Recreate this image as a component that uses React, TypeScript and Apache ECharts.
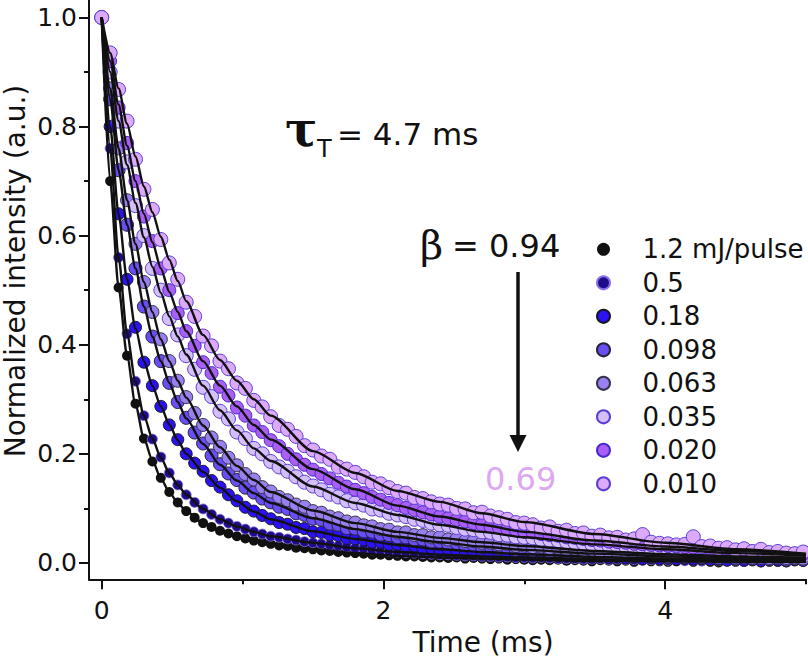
import React, { useEffect, useRef } from 'react';
import * as echarts from 'echarts';

const time = [0,0.06,0.12,0.18,0.24,0.3,0.36,0.42,0.48,0.54,
  0.6,0.66,0.72,0.78,0.84,0.9,0.96,1.02,1.08,1.14,
  1.2,1.26,1.32,1.38,1.44,1.5,1.56,1.62,1.68,1.74,
  1.8,1.86,1.92,1.98,2.04,2.1,2.16,2.22,2.28,2.34,
  2.4,2.46,2.52,2.58,2.64,2.7,2.76,2.82,2.88,2.94,
  3,3.06,3.12,3.18,3.24,3.3,3.36,3.42,3.48,3.54,
  3.6,3.66,3.72,3.78,3.84,3.9,3.96,4.02,4.08,4.14,
  4.2,4.26,4.32,4.38,4.44,4.5,4.56,4.62,4.68,4.74,
  4.8,4.86,4.92,4.98];

const fitTime = [0,0.06,0.12,0.18,0.24,0.3,0.36,0.42,0.48,0.54,0.6,0.72,0.84,0.96,1.08,1.2,1.5,1.8,2.1,2.4,2.7,3,3.5,4,4.5,5];

const seriesNames = ['1.2 mJ/pulse', '0.5', '0.18', '0.098', '0.063', '0.035', '0.020', '0.010'];

const d12 = [1,0.70,0.505,0.38,0.292,0.228,0.186,0.156,0.13,0.111,
  0.095,0.083,0.073,0.066,0.059,0.054,0.049,0.045,0.041,0.038,
  0.035,0.032,0.031,0.028,0.027,0.025,0.023,0.022,0.02,0.019,
  0.018,0.017,0.015,0.015,0.014,0.013,0.012,0.012,0.011,0.010,
  0.010,0.009,0.010,0.008,0.009,0.008,0.007,0.008,0.006,0.007,
  0.006,0.005,0.006,0.005,0.006,0.004,0.005,0.004,0.003,0.005,
  0.004,0.003,0.004,0.002,0.004,0.003,0.003,0.002,0.003,0.004,
  0.002,0.003,0.002,0.001,0.003,0.002,0.002,0.003,0.001,0.002,
  0.002,0.001,0.003,0.002];
const d05 = [1,0.76,0.56,0.42,0.333,0.27,0.227,0.194,0.165,0.143,
  0.125,0.111,0.099,0.089,0.08,0.073,0.067,0.062,0.057,0.053,
  0.049,0.047,0.044,0.042,0.039,0.037,0.035,0.033,0.031,0.029,
  0.027,0.026,0.024,0.023,0.021,0.020,0.019,0.018,0.017,0.016,
  0.015,0.015,0.014,0.013,0.013,0.012,0.012,0.011,0.011,0.010,
  0.010,0.009,0.010,0.009,0.008,0.008,0.008,0.007,0.007,0.008,
  0.006,0.007,0.006,0.006,0.005,0.006,0.005,0.005,0.006,0.004,
  0.005,0.004,0.005,0.004,0.004,0.004,0.003,0.004,0.003,0.004,
  0.003,0.003,0.004,0.003];
const d018 = [1,0.80,0.64,0.52,0.432,0.368,0.325,0.287,0.253,0.226,
  0.2,0.183,0.168,0.151,0.139,0.125,0.114,0.102,0.095,0.087,
  0.081,0.074,0.071,0.065,0.063,0.057,0.056,0.051,0.05,0.045,
  0.044,0.042,0.038,0.038,0.034,0.034,0.031,0.031,0.027,0.028,
  0.025,0.025,0.022,0.023,0.02,0.021,0.018,0.02,0.017,0.018,
  0.016,0.017,0.014,0.015,0.013,0.014,0.012,0.013,0.011,0.012,
  0.010,0.011,0.009,0.011,0.008,0.010,0.008,0.009,0.007,0.009,
  0.007,0.008,0.006,0.007,0.005,0.007,0.005,0.006,0.004,0.006,
  0.005,0.004,0.006,0.005];
const d0098 = [1,0.85,0.72,0.62,0.54,0.47,0.415,0.37,0.33,0.295,
  0.266,0.239,0.219,0.197,0.181,0.164,0.152,0.138,0.129,0.118,
  0.111,0.103,0.099,0.091,0.088,0.081,0.079,0.072,0.07,0.064,
  0.063,0.058,0.057,0.052,0.051,0.047,0.047,0.043,0.043,0.039,
  0.039,0.035,0.036,0.032,0.033,0.029,0.03,0.027,0.028,0.024,
  0.025,0.022,0.023,0.02,0.022,0.019,0.02,0.017,0.018,0.016,
  0.017,0.015,0.016,0.013,0.015,0.012,0.014,0.011,0.013,0.011,
  0.012,0.010,0.011,0.009,0.011,0.008,0.010,0.008,0.009,0.007,
  0.009,0.006,0.008,0.006];
const d0063 = [1,0.87,0.76,0.665,0.585,0.515,0.46,0.41,0.37,0.334,
  0.304,0.275,0.253,0.23,0.213,0.193,0.179,0.163,0.153,0.139,
  0.131,0.121,0.115,0.107,0.103,0.095,0.092,0.085,0.082,0.076,
  0.074,0.069,0.067,0.062,0.061,0.056,0.056,0.051,0.051,0.047,
  0.047,0.043,0.044,0.04,0.04,0.037,0.037,0.034,0.035,0.031,
  0.032,0.029,0.03,0.027,0.028,0.025,0.026,0.023,0.024,0.021,
  0.022,0.02,0.021,0.018,0.019,0.017,0.018,0.015,0.017,0.014,
  0.016,0.013,0.015,0.012,0.014,0.011,0.013,0.01,0.012,0.009,
  0.011,0.009,0.01,0.008];
const d0035 = [1,0.90,0.81,0.735,0.655,0.60,0.54,0.50,0.448,0.418,
  0.38,0.355,0.322,0.305,0.278,0.264,0.24,0.228,0.21,0.2,
  0.186,0.176,0.168,0.158,0.148,0.141,0.134,0.126,0.121,0.114,
  0.11,0.106,0.099,0.097,0.091,0.088,0.085,0.08,0.078,0.073,
  0.07,0.069,0.065,0.062,0.061,0.057,0.056,0.052,0.051,0.048,
  0.047,0.046,0.043,0.042,0.041,0.039,0.037,0.036,0.034,0.034,
  0.032,0.031,0.03,0.028,0.029,0.026,0.026,0.025,0.024,0.023,
  0.022,0.022,0.02,0.021,0.019,0.018,0.018,0.017,0.016,0.016,
  0.015,0.014,0.014,0.013];
const d0020 = [1,0.92,0.835,0.77,0.70,0.635,0.59,0.54,0.50,0.458,
  0.425,0.398,0.368,0.348,0.323,0.307,0.285,0.27,0.252,0.24,
  0.225,0.214,0.2,0.19,0.18,0.171,0.163,0.155,0.147,0.14,
  0.134,0.128,0.121,0.116,0.11,0.106,0.101,0.097,0.093,0.089,
  0.085,0.082,0.079,0.076,0.073,0.07,0.067,0.065,0.062,0.06,
  0.057,0.056,0.053,0.051,0.05,0.047,0.046,0.044,0.042,0.041,
  0.039,0.038,0.037,0.035,0.034,0.033,0.032,0.031,0.03,0.029,
  0.028,0.027,0.026,0.025,0.024,0.022,0.022,0.021,0.02,0.019,
  0.018,0.017,0.017,0.016];
const d0010 = [1,0.935,0.868,0.81,0.74,0.685,0.648,0.593,0.55,0.52,
  0.478,0.452,0.416,0.398,0.37,0.356,0.33,0.32,0.298,0.286,
  0.268,0.252,0.245,0.232,0.215,0.207,0.196,0.19,0.176,0.172,
  0.166,0.158,0.148,0.145,0.138,0.131,0.128,0.12,0.118,0.112,
  0.108,0.106,0.1,0.099,0.092,0.093,0.086,0.083,0.08,0.074,
  0.073,0.07,0.064,0.066,0.058,0.06,0.054,0.055,0.049,0.051,
  0.046,0.047,0.042,0.044,0.052,0.038,0.036,0.035,0.033,0.034,
  0.048,0.03,0.031,0.027,0.028,0.024,0.026,0.021,0.025,0.019,
  0.021,0.018,0.017,0.02];

const f12 = [1,0.70,0.505,0.38,0.29,0.228,0.188,0.155,0.13,0.11,0.095,0.073,0.059,0.049,0.041,0.035,0.025,0.018,0.013,0.01,0.008,0.006,0.004,0.003,0.002,0.002];
const f05 = [1,0.76,0.56,0.42,0.332,0.27,0.228,0.193,0.165,0.143,0.125,0.099,0.08,0.067,0.057,0.049,0.037,0.027,0.02,0.015,0.012,0.01,0.007,0.005,0.004,0.003];
const f018 = [1,0.80,0.64,0.52,0.43,0.37,0.325,0.287,0.254,0.225,0.2,0.167,0.138,0.113,0.094,0.08,0.058,0.044,0.033,0.025,0.02,0.016,0.011,0.008,0.006,0.005];
const f0098 = [1,0.85,0.72,0.62,0.54,0.47,0.415,0.37,0.33,0.295,0.265,0.218,0.18,0.151,0.128,0.11,0.082,0.062,0.048,0.038,0.03,0.024,0.017,0.012,0.009,0.007];
const f0063 = [1,0.87,0.76,0.665,0.585,0.515,0.46,0.41,0.37,0.334,0.303,0.252,0.212,0.178,0.152,0.13,0.096,0.073,0.057,0.046,0.038,0.031,0.022,0.016,0.012,0.009];
const f0035 = [1,0.90,0.81,0.73,0.66,0.597,0.543,0.495,0.452,0.415,0.382,0.325,0.28,0.243,0.21,0.187,0.14,0.11,0.088,0.07,0.057,0.047,0.034,0.025,0.018,0.013];
const f0020 = [1,0.92,0.84,0.765,0.70,0.64,0.588,0.54,0.497,0.46,0.425,0.37,0.325,0.287,0.253,0.226,0.172,0.135,0.105,0.085,0.07,0.057,0.041,0.03,0.022,0.016];
const f0010 = [1,0.935,0.87,0.805,0.745,0.69,0.643,0.598,0.556,0.517,0.48,0.418,0.372,0.334,0.30,0.27,0.205,0.165,0.132,0.112,0.091,0.075,0.053,0.037,0.025,0.017];

const dataSets = [d12, d05, d018, d0098, d0063, d0035, d0020, d0010];
const fitSets = [f12, f05, f018, f0098, f0063, f0035, f0020, f0010];

const xMajorTicks = [0, 2, 4];
const xMinorTicks = [1, 3, 5];
const yMajorTicks = [0, 0.2, 0.4, 0.6, 0.8, 1.0];
const yMinorTicks = [0.1, 0.3, 0.5, 0.7, 0.9];

const markerStyles = [
  { color: '#111111', borderColor: '#111111', borderWidth: 0, size: 10 },
  { color: '#1e0c88', borderColor: '#8c6ee6', borderWidth: 0.8, size: 10 },
  { color: '#2b12f2', borderColor: '#16162a', borderWidth: 1, size: 12 },
  { color: '#6a4ef5', borderColor: '#26223c', borderWidth: 1, size: 13 },
  { color: '#9a80ee', borderColor: '#36324c', borderWidth: 1, size: 13 },
  { color: '#d4bffa', borderColor: '#5a3ed2', borderWidth: 1, size: 14 },
  { color: '#a95ff2', borderColor: '#4a2ad2', borderWidth: 1, size: 13 },
  { color: '#dcaaf8', borderColor: '#5a3ed2', borderWidth: 1, size: 14 },
];

const FONT = '"DejaVu Sans", sans-serif';
const SERIF = '"DejaVu Serif", serif';
const INK = '#111111';

export default function App() {
  const ref = useRef<HTMLDivElement>(null);
  useEffect(() => {
    if (!ref.current) return;
    const chart = echarts.init(ref.current, undefined, { renderer: 'svg' });

    const scatterSeries = seriesNames.map((name, k) => ({
      type: 'scatter',
      name,
      data: time.map((t, i) => [t, dataSets[k][i]]),
      symbol: 'circle',
      symbolSize: markerStyles[k].size,
      itemStyle: {
        color: markerStyles[k].color,
        borderColor: markerStyles[k].borderColor,
        borderWidth: markerStyles[k].borderWidth,
        opacity: 1,
      },
      z: 2,
    }));
    const fitSeries = seriesNames.map((name, k) => ({
      type: 'line',
      name: 'fit ' + name,
      data: fitTime.map((t, i) => [t, fitSets[k][i]]),
      smooth: 0.25,
      smoothMonotone: 'x',
      showSymbol: false,
      symbol: 'none',
      lineStyle: { color: INK, width: 2.4 },
      itemStyle: { color: INK },
      z: 3,
      silent: true,
    }));

    const axisLineStyle = { color: INK, width: 2 };
    chart.setOption({
      animation: false,
      textStyle: { fontFamily: FONT },
      grid: { left: 89, right: 2, top: 0, bottom: 79.7, containLabel: false },
      legend: {
        data: seriesNames,
        orient: 'vertical',
        left: 591,
        top: 231.3,
        itemWidth: 68,
        itemHeight: 13,
        itemGap: 7.5,
        icon: 'circle',
        textStyle: { fontSize: 26, lineHeight: 24, color: INK, fontFamily: FONT },
        selectedMode: false,
      },
      xAxis: [
        {
          type: 'value', min: -0.09, max: 5, position: 'bottom',
          axisLine: { show: true, onZero: false, lineStyle: axisLineStyle },
          axisTick: { show: true, customValues: xMajorTicks, length: 10, lineStyle: axisLineStyle },
          axisLabel: { show: true, customValues: xMajorTicks, fontSize: 25, color: INK, margin: 19, fontFamily: FONT },
          splitLine: { show: false },
        },
        {
          type: 'value', min: -0.09, max: 5, position: 'bottom',
          axisLine: { show: false, onZero: false },
          axisTick: { show: true, customValues: xMinorTicks, length: 5, lineStyle: axisLineStyle },
          axisLabel: { show: false },
          splitLine: { show: false },
        },
      ],
      yAxis: [
        {
          type: 'value', min: -0.03, max: 1.032, position: 'left',
          axisLine: { show: true, onZero: false, lineStyle: axisLineStyle },
          axisTick: { show: true, customValues: yMajorTicks, length: 10, lineStyle: axisLineStyle },
          axisLabel: {
            show: true, customValues: yMajorTicks, fontSize: 25, color: INK, margin: 12, fontFamily: FONT,
            formatter: (v: number) => v.toFixed(1),
          },
          splitLine: { show: false },
        },
        {
          type: 'value', min: -0.03, max: 1.032, position: 'left',
          axisLine: { show: false, onZero: false },
          axisTick: { show: true, customValues: yMinorTicks, length: 5, lineStyle: axisLineStyle },
          axisLabel: { show: false },
          splitLine: { show: false },
        },
      ],
      graphic: [
        {
          type: 'text', x: 15, y: 271, rotation: Math.PI / 2,
          style: { text: 'Normalized intensity (a.u.)', font: '28px ' + FONT, fill: INK, align: 'center', verticalAlign: 'middle', textAlign: 'center', textVerticalAlign: 'middle' },
        },
        {
          type: 'text', x: 483, y: 642,
          style: { text: 'Time (ms)', font: '28px ' + FONT, fill: INK, align: 'center', verticalAlign: 'middle', textAlign: 'center', textVerticalAlign: 'middle' },
        },
        {
          type: 'text', x: 285, y: 129,
          style: { text: 'τ', font: 'bold 48px ' + SERIF, fill: INK, align: 'left', verticalAlign: 'middle', textAlign: 'left', textVerticalAlign: 'middle' },
        },
        {
          type: 'text', x: 317, y: 149,
          style: { text: 'T', font: '24px ' + FONT, fill: INK, align: 'left', verticalAlign: 'middle', textAlign: 'left', textVerticalAlign: 'middle' },
        },
        {
          type: 'text', x: 337, y: 134,
          style: { text: '= 4.7 ms', font: '31px ' + FONT, fill: INK, align: 'left', verticalAlign: 'middle', textAlign: 'left', textVerticalAlign: 'middle' },
        },
        {
          type: 'text', x: 420, y: 245,
          style: { text: 'β', font: '40px ' + SERIF, fill: INK, align: 'left', verticalAlign: 'middle', textAlign: 'left', textVerticalAlign: 'middle' },
        },
        {
          type: 'text', x: 452, y: 245.5,
          style: { text: '= 0.94', font: '32px ' + FONT, fill: INK, align: 'left', verticalAlign: 'middle', textAlign: 'left', textVerticalAlign: 'middle' },
        },
        {
          type: 'text', x: 485, y: 479,
          style: { text: '0.69', font: '32px ' + FONT, fill: '#dca8f0', align: 'left', verticalAlign: 'middle', textAlign: 'left', textVerticalAlign: 'middle' },
        },
        {
          type: 'line',
          shape: { x1: 518, y1: 272, x2: 518, y2: 438 },
          style: { stroke: INK, lineWidth: 3.5 },
        },
        {
          type: 'polygon',
          shape: { points: [[509.5, 435], [526.5, 435], [518, 452]] },
          style: { fill: INK },
        },
      ],
      series: [...scatterSeries, ...fitSeries],
    });
    return () => chart.dispose();
  }, []);
  return (
    <div
      ref={ref}
      style={{ position: 'absolute', left: 0, top: 0, width: 808, height: 659, background: '#ffffff' }}
    />
  );
}
